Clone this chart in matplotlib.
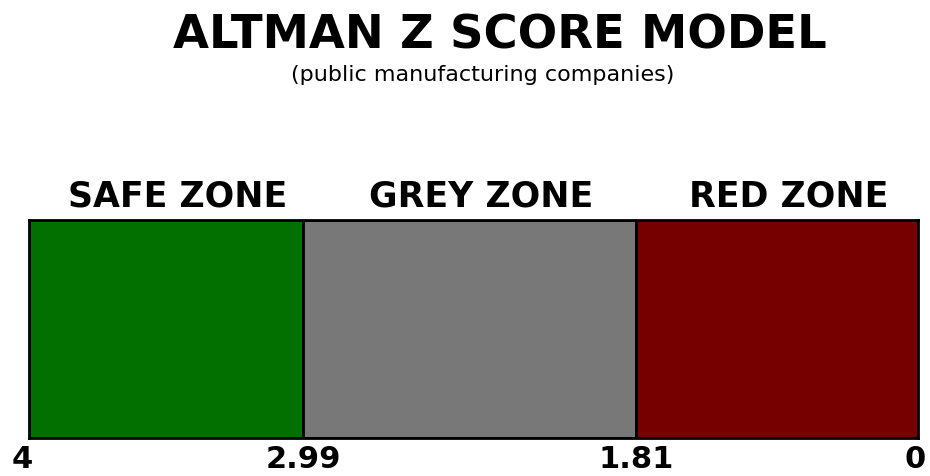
#!/usr/bin/env python3

import numpy as np
import matplotlib as mpl
import matplotlib.pyplot as plt
from matplotlib.transforms import ScaledTranslation

mpl.use('Agg')

# +
# data
# -
zone_names = ['SAFE ZONE', 'GREY ZONE', 'RED ZONE']
zone_colors = ['#017001', '#787878', '#760000']
zone_widths = [274, 333, 282]          # relative widths as drawn
boundary_labels = ['4', '2.99', '1.81', '0']

# +
# plot
# -
fig = plt.figure(figsize=(9.3, 4.77), dpi=100)
ax = fig.add_axes([29 / 930, 38 / 477, 889 / 930, 218 / 477])

lefts = np.concatenate([[0], np.cumsum(zone_widths)[:-1]])
ax.barh([0], zone_widths, left=lefts, height=1.0, color=zone_colors,
        edgecolor='black', linewidth=2)
ax.set_xlim(0, sum(zone_widths))
ax.set_ylim(-0.5, 0.5)

for _name, _l, _w in zip(zone_names, lefts, zone_widths):
    ax.text(_l + _w / 2 + 12, 0.535, _name, ha='center', va='bottom',
            fontsize=25, fontweight='bold')

edges = np.concatenate([[0], np.cumsum(zone_widths)])
ax.set_xticks(edges)
ax.set_xticklabels(boundary_labels, fontsize=22, fontweight='bold')
ax.tick_params(axis='x', length=0, pad=4)
_tl = ax.get_xticklabels()
_tl[0].set_transform(_tl[0].get_transform() + ScaledTranslation(-7 / 100, 0, fig.dpi_scale_trans))
_tl[-1].set_transform(_tl[-1].get_transform() + ScaledTranslation(-3 / 100, 0, fig.dpi_scale_trans))
ax.set_yticks([])
for _s in ax.spines.values():
    _s.set_linewidth(2)

fig.text(0.538, 0.925, 'ALTMAN Z SCORE MODEL', ha='center', va='center',
         fontsize=33.5, fontweight='bold')
fig.text(0.519, 0.843, '(public manufacturing companies)', ha='center',
         va='center', fontsize=16)

plt.savefig('out.png', dpi=100)
